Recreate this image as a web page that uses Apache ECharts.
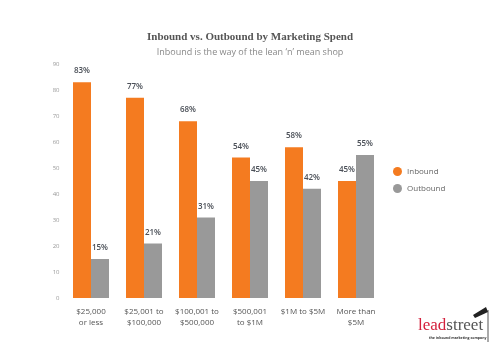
<!DOCTYPE html>
<html>
<head>
<meta charset="utf-8">
<script src="https://cdn.jsdelivr.net/npm/echarts@6/dist/echarts.min.js"></script>
<style>
  html, body { margin: 0; padding: 0; background: #fff; }
  #chartmain { width: 500px; height: 350px; }
</style>
</head>
<body>
<div id="chartmain"></div>
<script>
var categories = ['$25,000\nor less', '$25,001 to\n$100,000', '$100,001 to\n$500,000', '$500,001\nto $1M', '$1M to $5M', 'More than\n$5M'];
var inbound = [83, 77, 68, 54, 58, 45];
var outbound = [15, 21, 31, 45, 42, 55];
var yTicks = [0, 90, 10];

var barLabel = {
    show: true,
    position: 'top',
    distance: 7,
    formatter: '{c}%',
    color: '#4a4f57',
    fontSize: 8,
    fontWeight: 600,
    fontFamily: 'Open Sans'
};

var option = {
    animation: false,
    title: {
        text: 'Inbound vs. Outbound by Marketing Spend',
        subtext: 'Inbound is the way of the lean \u2018n\u2019 mean shop',
        left: 'center',
        top: 27,
        itemGap: 5,
        textStyle: {
            fontFamily: 'Liberation Serif',
            fontWeight: 'bold',
            fontSize: 11,
            color: '#555'
        },
        subtextStyle: {
            fontFamily: 'Open Sans',
            fontSize: 9,
            color: '#888'
        }
    },
    legend: {
        orient: 'vertical',
        left: 388,
        top: 162,
        icon: 'circle',
        itemWidth: 9,
        itemHeight: 9,
        itemGap: 8,
        textStyle: {
            fontFamily: 'Open Sans',
            fontSize: 8,
            color: '#666'
        },
        data: ['Inbound', 'Outbound']
    },
    grid: {
        left: 64.5,
        width: 318,
        top: 64,
        height: 234
    },
    xAxis: {
        type: 'category',
        data: categories,
        axisLine: { show: false },
        axisTick: { show: false },
        axisLabel: {
            interval: 0,
            margin: 8,
            color: '#555',
            fontSize: 8,
            lineHeight: 11,
            fontFamily: 'Open Sans'
        }
    },
    yAxis: {
        type: 'value',
        min: yTicks[0],
        max: yTicks[1],
        interval: yTicks[2],
        splitLine: { show: false },
        axisLine: { show: false },
        axisTick: { show: false },
        axisLabel: {
            margin: 5,
            color: '#999',
            fontSize: 6,
            fontFamily: 'Open Sans'
        }
    },
    series: [{
        name: 'Inbound',
        type: 'bar',
        data: inbound,
        barWidth: 18,
        barGap: '0%',
        itemStyle: { color: '#f47b20' },
        label: barLabel
    }, {
        name: 'Outbound',
        type: 'bar',
        data: outbound,
        barWidth: 18,
        itemStyle: { color: '#999999' },
        label: barLabel
    }],
    graphic: [{
        type: 'text',
        left: 418,
        top: 317,
        style: {
            text: '{a|lead}{b|street}',
            rich: {
                a: { fontFamily: 'Liberation Serif', fontSize: 17, fill: '#d4213d' },
                b: { fontFamily: 'Liberation Serif', fontSize: 17, fill: '#555' }
            }
        }
    }, {
        type: 'text',
        left: 429,
        top: 336,
        style: {
            text: 'the inbound marketing company',
            fontFamily: 'Open Sans',
            fontSize: 3.5,
            fontWeight: 'bold',
            fill: '#333'
        }
    }, {
        type: 'line',
        shape: { x1: 488, y1: 310, x2: 488, y2: 342 },
        style: { stroke: '#555', lineWidth: 1 }
    }, {
        type: 'polygon',
        shape: { points: [[473, 315], [486, 307], [488, 312], [475, 318]] },
        style: { fill: '#222' }
    }]
};

//初始化echarts实例
var myChart = echarts.init(document.getElementById('chartmain'));
myChart.setOption(option);
</script>
</body>
</html>
